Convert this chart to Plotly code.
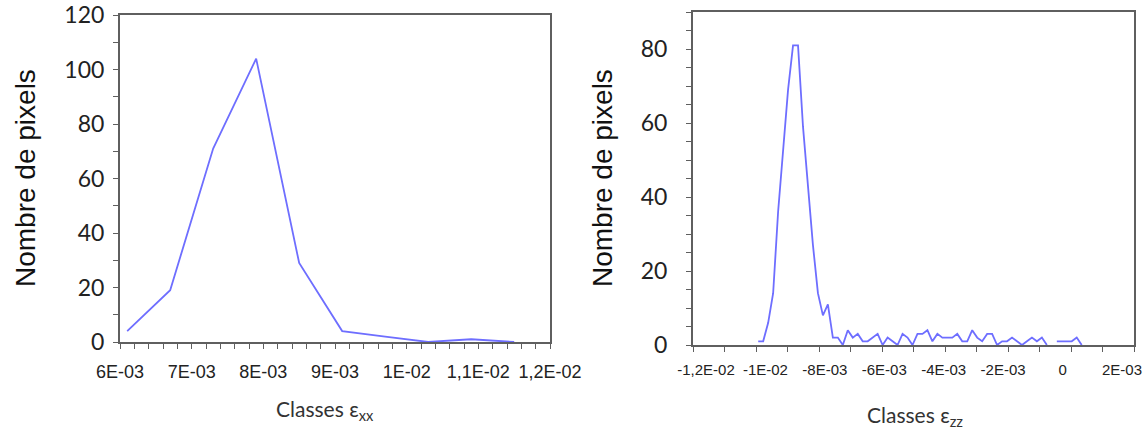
import plotly.graph_objects as go

# ---- Histogram of strain classes eps_xx ----
classes_xx = [6.1e-3, 6.7e-3, 7.3e-3, 7.9e-3, 8.5e-3, 9.1e-3, 9.7e-3, 10.3e-3, 10.9e-3, 11.5e-3]
count_xx = [4, 19, 71, 104, 29, 4, 2, 0, 1, 0]

xx_tickvals = [6e-3, 7e-3, 8e-3, 9e-3, 10e-3, 11e-3, 12e-3]
xx_ticktext = ["6E-03", "7E-03", "8E-03", "9E-03", "1E-02", "1,1E-02", "1,2E-02"]

# ---- Histogram of strain classes eps_zz (class centres in units of 1E-03) ----
classes_zz_e3 = [
    -9.930, -9.772, -9.614, -9.456, -9.298, -9.140, -8.982, -8.824, -8.666, -8.508,
    -8.350, -8.192, -8.034, -7.876, -7.718, -7.560, -7.402, -7.244, -7.086, -6.928,
    -6.770, -6.612, -6.454, -6.296, -6.138, -5.980, -5.822, -5.664, -5.506, -5.348,
    -5.190, -5.032, -4.874, -4.716, -4.558, -4.400, -4.242, -4.084, -3.926, -3.768,
    -3.610, -3.452, -3.294, -3.136, -2.978, -2.820, -2.662, -2.504, -2.346, -2.188,
    -2.030, -1.872, -1.714, -1.556, -1.398, -1.240, -1.082, -0.924, -0.766, -0.608,
    -0.450, -0.292, -0.134, 0.024, 0.182, 0.340,
]
count_zz = [
    1, 1, 6, 14, 36, 53, 69, 81, 81, 59,
    43, 27, 14, 8, 11, 2, 2, 0, 4, 2,
    3, 1, 1, 2, 3, 0, 2, 1, 0, 3,
    2, 0, 3, 3, 4, 1, 3, 2, 2, 2,
    3, 1, 1, 4, 2, 1, 3, 3, 0, 1,
    1, 2, 1, 0, 1, 2, 1, 2, 0, None,
    1, 1, 1, 1, 2, 0,
]
classes_zz = [v * 1e-3 for v in classes_zz_e3]

zz_tickvals = [-12e-3, -10e-3, -8e-3, -6e-3, -4e-3, -2e-3, 0, 2e-3]
zz_ticktext = ["-1,2E-02", "-1E-02", "-8E-03", "-6E-03", "-4E-03", "-2E-03", "0", "2E-03"]

W, H = 1148, 438
LINE = "#6e6eff"
AXIS = "#5f5f5f"
NUM_FONT = "Lato, Open Sans, sans-serif"
ARIAL = "Liberation Sans, Arial, sans-serif"


def px(x):
    return x / W


def py(y):
    return 1 - y / H


fig = go.Figure()
fig.add_trace(go.Scatter(x=classes_xx, y=count_xx, mode="lines",
                         line=dict(color=LINE, width=1.8),
                         xaxis="x", yaxis="y", hoverinfo="skip"))
fig.add_trace(go.Scatter(x=classes_zz, y=count_zz, mode="lines",
                         line=dict(color=LINE, width=1.8), connectgaps=False,
                         xaxis="x2", yaxis="y2", hoverinfo="skip"))
# empty trace that registers the label-only axis x3 against y2
fig.add_trace(go.Scatter(x=[], y=[], mode="lines", xaxis="x3", yaxis="y2",
                         hoverinfo="skip"))

common = dict(showline=True, linecolor=AXIS, linewidth=2, mirror=True,
              showgrid=False, zeroline=False, ticks="outside", ticklen=5,
              tickwidth=1.3, tickcolor=AXIS, layer="below traces",
              automargin=False)

fig.update_layout(
    width=W, height=H,
    margin=dict(l=0, r=0, t=0, b=0),
    paper_bgcolor="white", plot_bgcolor="rgba(0,0,0,0)",
    showlegend=False,
    xaxis=dict(domain=[px(120), px(550)], range=[6e-3, 12e-3], anchor="y",
               tickmode="array", tickvals=xx_tickvals, ticktext=xx_ticktext,
               tickfont=dict(family=ARIAL, size=18, color="#222222"),
               ticklabelstandoff=7,
               minor=dict(tickmode="linear", tick0=6e-3, dtick=0.2e-3,
                          ticks="outside", ticklen=5, tickwidth=1.3, tickcolor=AXIS),
               **common),
    yaxis=dict(domain=[py(342), py(15)], range=[0, 120], anchor="x",
               tickmode="linear", tick0=0, dtick=20,
               tickfont=dict(family=NUM_FONT, size=23, color="#222222"),
               ticklabelstandoff=4,
               minor=dict(tickmode="linear", tick0=0, dtick=10,
                          ticks="outside", ticklen=5, tickwidth=1.3, tickcolor=AXIS),
               **common),
    # eps_zz axis: frame and tick marks
    xaxis2=dict(domain=[px(693), px(1134)], range=[-12e-3, 2e-3], anchor="y2",
                tickmode="array", tickvals=zz_tickvals, showticklabels=False,
                minor=dict(tickmode="linear", tick0=-12e-3, dtick=1e-3,
                           ticks="outside", ticklen=5, tickwidth=1.3, tickcolor=AXIS),
                **common),
    # eps_zz axis: tick labels, set on a slightly narrower scale
    xaxis3=dict(domain=[px(706), px(1122)], range=[-12e-3, 2e-3], anchor="y2",
                tickmode="array", tickvals=zz_tickvals, ticktext=zz_ticktext,
                tickfont=dict(family=ARIAL, size=15, color="#222222"),
                ticks="", showline=False, showgrid=False, zeroline=False,
                ticklabelstandoff=14, ticklabeloverflow="allow", automargin=False),
    yaxis2=dict(domain=[py(345), py(12)], range=[0, 90], anchor="x2",
                tickmode="linear", tick0=0, dtick=20,
                tickfont=dict(family=NUM_FONT, size=23, color="#222222"),
                ticklabelstandoff=14,
                minor=dict(tickmode="linear", tick0=0, dtick=5,
                           ticks="outside", ticklen=5, tickwidth=1.3, tickcolor=AXIS),
                **common),
)

title_font = dict(family=ARIAL, size=28, color="#111111")
label_font = dict(family=NUM_FONT, size=21, color="#333333")

fig.add_annotation(x=px(26), y=py(178), xref="paper", yref="paper",
                   text="Nombre de pixels", textangle=-90, showarrow=False,
                   font=title_font, xanchor="center", yanchor="middle")
fig.add_annotation(x=px(603), y=py(178), xref="paper", yref="paper",
                   text="Nombre de pixels", textangle=-90, showarrow=False,
                   font=title_font, xanchor="center", yanchor="middle")
fig.add_annotation(x=px(325), y=py(410), xref="paper", yref="paper",
                   text="Classes ε<sub>xx</sub>", showarrow=False,
                   font=label_font, xanchor="center", yanchor="middle")
fig.add_annotation(x=px(915), y=py(416), xref="paper", yref="paper",
                   text="Classes ε<sub>zz</sub>", showarrow=False,
                   font=label_font, xanchor="center", yanchor="middle")

fig.write_html("out.html")
